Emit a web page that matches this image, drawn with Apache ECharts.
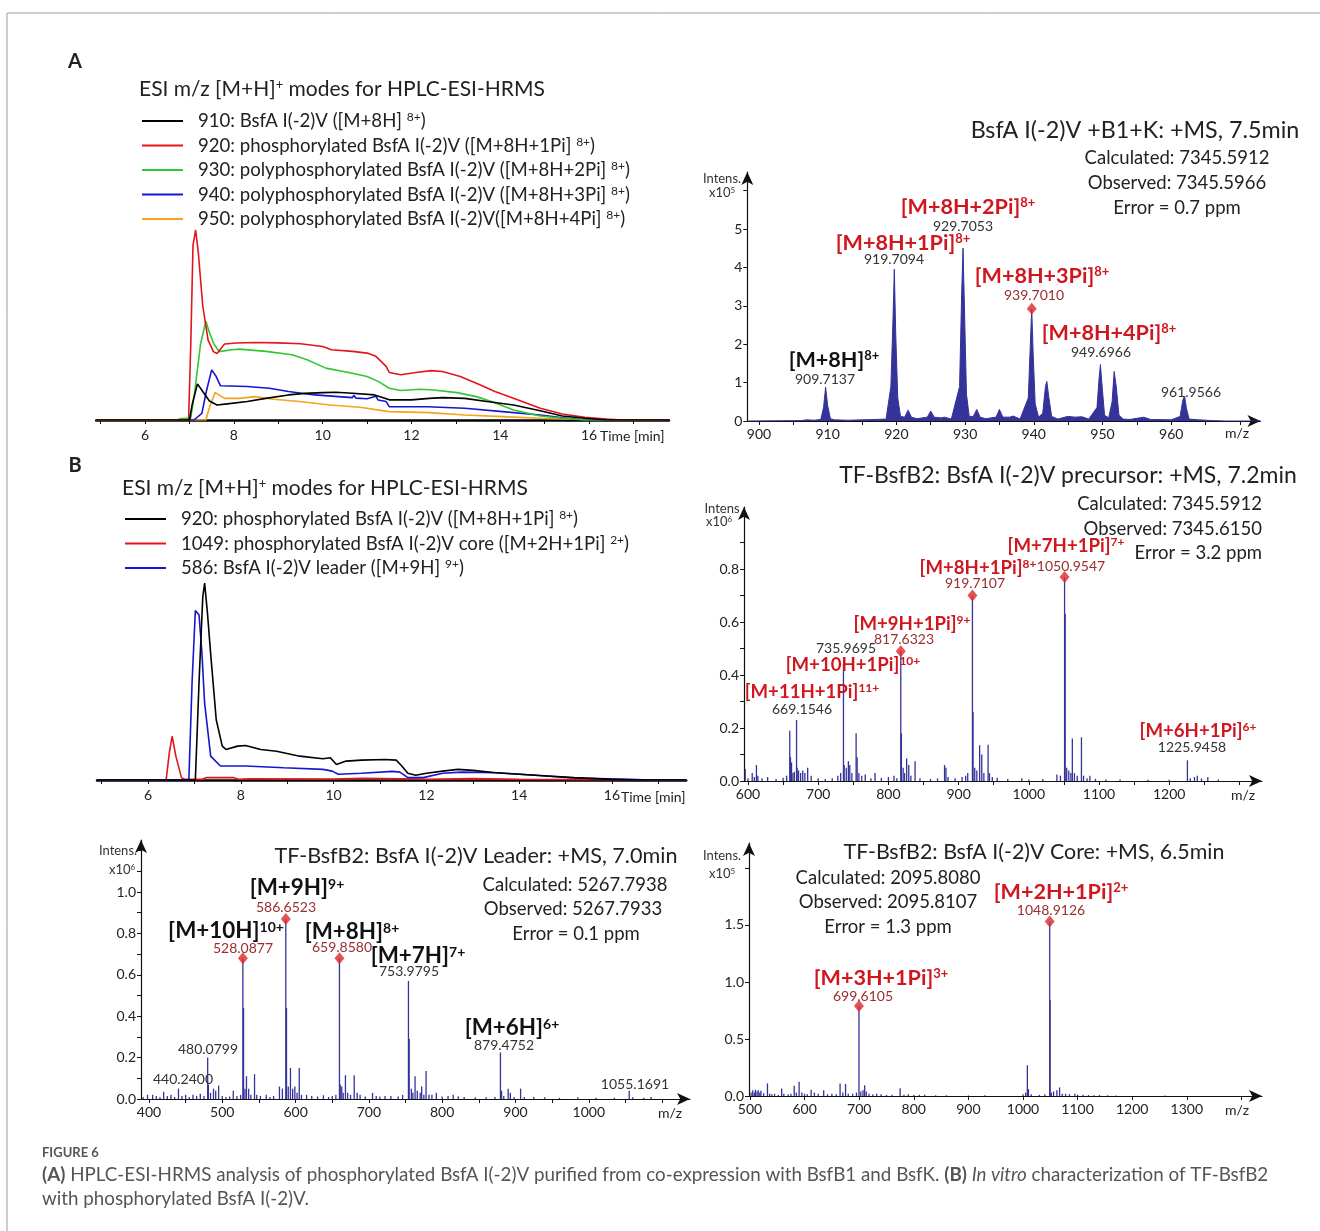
<!DOCTYPE html>
<html>
<head>
<meta charset="utf-8">
<script src="https://cdn.jsdelivr.net/npm/echarts@6/dist/echarts.min.js"></script>
<style>
html,body{margin:0;padding:0;background:#fff}
#main{width:1320px;height:1231px}
</style>
</head>
<body>
<div id="main"></div>
<script>
var FONT = 'Lato, "Noto Sans", sans-serif';
var NAVY = '#34339a', RED = '#d0161e', NUMRED = '#9b2d30', DIAMOND = '#dc2a2a';

// ---- A: extracted ion chromatograms (time [min], relative intensity)
var chromA910 = [[4.9,0],[7.0,0],[7.06,8],[7.18,19],[7.3,15],[7.45,10],[7.62,7.9],[7.85,8.5],[8.3,9.7],[8.72,11.4],[9.23,13.2],[9.6,14],[10,14.4],[10.3,14.6],[10.67,14.1],[11.17,13.2],[11.4,11.5],[11.5,10.6],[12.0,10.6],[12.4,11.4],[12.7,11.8],[13.2,11.4],[13.7,9.7],[14.3,7.9],[14.9,4.9],[15.4,2.1],[15.9,0.9],[16.4,0],[17.8,0]];
var chromA920 = [[4.9,0],[6.98,0],[7.03,40],[7.08,92],[7.14,100],[7.2,88],[7.3,60],[7.42,42],[7.54,36],[7.62,35],[7.79,40],[8.05,40.5],[8.5,40.8],[9.0,40.6],[9.5,40.1],[10.0,38.7],[10.2,37],[10.67,36.1],[11.0,35.2],[11.2,33.5],[11.43,28.2],[11.5,25],[11.76,23.8],[12.1,25],[12.44,26],[12.7,25.5],[13.1,22.9],[13.54,18.5],[13.88,15],[14.39,10.6],[14.9,6.2],[15.4,3.2],[15.9,1.4],[16.4,0.5],[16.75,0],[17.8,0]];
var chromA930 = [[4.9,0],[6.7,0],[6.8,0.7],[6.95,0.9],[7.03,1],[7.12,15],[7.25,40],[7.37,52],[7.45,46],[7.55,40],[7.67,36],[7.96,37],[8.13,37.3],[8.72,36.1],[9.31,34.3],[9.65,31.7],[10.07,27.3],[10.67,24.6],[11.0,22.9],[11.26,20.2],[11.5,16.7],[11.76,15.5],[12.19,16.2],[12.5,15.8],[13.03,14.4],[13.46,12.3],[13.8,9.7],[14.3,5.3],[14.9,2.1],[15.4,0.9],[15.9,0],[17.8,0]];
var chromA940 = [[4.9,0],[7.1,0],[7.28,3.5],[7.38,15],[7.5,26.4],[7.6,23],[7.7,18],[8.3,17.6],[8.8,16.7],[9.23,15],[9.82,13.2],[10.67,11.8],[10.7,13],[10.75,11.5],[11.0,11.2],[11.2,12.5],[11.25,10.5],[11.43,9.7],[11.5,7],[12.36,7],[13.2,6.2],[14.05,4.4],[14.9,2.6],[15.4,1.2],[15.9,0],[17.8,0]];
var chromA950 = [[4.9,0],[7.37,0],[7.47,8],[7.58,14.4],[7.79,11.4],[8.13,11.4],[8.47,12.3],[8.9,10.9],[9.48,9.7],[10.16,7.9],[10.84,6.7],[11.5,4.4],[12.4,3.9],[13.2,2.6],[14.05,1.8],[14.9,0.9],[15.7,0.4],[16.6,0],[17.8,0]];

// ---- B: extracted ion chromatograms
var chromB920 = [[4.9,0],[7.02,0],[7.1,50],[7.18,93],[7.22,100],[7.28,85],[7.35,64],[7.47,30.6],[7.6,17.2],[7.68,15.5],[7.93,17.2],[8.1,17.5],[8.43,15.5],[8.77,14.6],[9.27,12.1],[9.77,10.8],[9.93,11.3],[10.06,7.9],[10.27,9.6],[10.6,10.1],[11.1,10.4],[11.35,10.1],[11.47,7.1],[11.6,3.4],[11.77,2.4],[12.0,3.4],[12.35,4.5],[12.68,5.4],[13.0,4.9],[13.5,3.7],[14.35,2.4],[15.18,1.2],[16.0,0.3],[16.5,0],[17.6,0]];
var chromB1049 = [[4.9,0],[6.39,0],[6.46,14],[6.52,22.2],[6.6,12.1],[6.72,1.2],[6.8,0.3],[7.15,0.3],[7.25,1.2],[7.85,1.2],[7.95,0.4],[8.2,0.6],[10,0.5],[10.6,0.9],[11.5,0.6],[12.0,0.4],[13.0,0.7],[14,0.3],[15,0.2],[17.6,0]];
var chromB586 = [[4.9,0],[6.88,0],[6.95,50],[7.02,86],[7.1,83.7],[7.16,65],[7.22,39],[7.35,12.1],[7.56,7.1],[8.1,7.1],[8.93,6.2],[9.77,5.4],[9.97,4.5],[10.1,2.9],[10.6,3.4],[11.27,4.4],[11.43,4],[11.6,1.2],[11.93,1.2],[12.35,3.4],[12.77,4],[13.5,3.7],[14.35,2.4],[15.18,1],[16.4,0.3],[16.8,0],[17.6,0]];

var chromTicks = [5,6,7,8,9,10,11,12,13,14,15,16,17];
var chromLabels = [6,8,10,12,14,16];

// ---- A: mass spectrum profile (m/z, intens x10^5)
var profileA = [[898.3,0],[906,0.01],[907,0.03],[908,0.02],[909.0,0.04],[909.4,0.35],[909.7,0.88],[910.0,0.4],[910.4,0.06],[911,0.03],[913,0.02],[915,0.03],[917,0.04],[918.5,0.05],[919.2,0.9],[919.5,2.6],[919.7,3.95],[919.9,2.3],[920.2,0.6],[920.6,0.12],[921.2,0.1],[921.7,0.28],[922.2,0.1],[923,0.06],[924.5,0.1],[925,0.26],[925.5,0.1],[926.5,0.08],[927,0.1],[928,0.05],[929.2,0.9],[929.5,3.3],[929.7,4.5],[929.9,3.0],[930.2,0.7],[930.6,0.12],[931.2,0.12],[931.7,0.3],[932.2,0.1],[933,0.06],[934.5,0.1],[935,0.3],[935.5,0.1],[936.5,0.1],[937,0.13],[938,0.05],[939.2,0.6],[939.5,2.0],[939.7,2.92],[939.9,1.8],[940.2,0.45],[940.7,0.1],[941.3,0.2],[941.7,0.9],[941.9,1.03],[942.2,0.6],[942.6,0.12],[943.5,0.05],[944.5,0.1],[945,0.12],[946,0.1],[947,0.11],[948,0.05],[949.2,0.35],[949.5,1.1],[949.7,1.47],[949.9,1.0],[950.3,0.15],[950.9,0.08],[951.4,0.5],[951.7,1.29],[952.0,0.9],[952.4,0.15],[953,0.05],[954,0.04],[956,0.1],[957,0.04],[960,0.03],[961.3,0.12],[961.7,0.55],[961.95,0.65],[962.2,0.35],[962.6,0.05],[964,0.03],[966,0.01],[968,0],[973,0]];
var profileAMarks = [[939.70,2.92]];
var msATicks = [900,905,910,915,920,925,930,935,940,945,950,955,960,965,970];
var msALabels = [900,910,920,930,940,950,960];
var msAYTicks = [0,1,2,3,4,5,6];
var msAYLabels = [0,1,2,3,4,5];

// ---- B: precursor spectrum (m/z, intens x10^6)
var precursorSticks = [[596,0.045],[600,0.01],[606,0.03],[609,0.015],[612,0.06],[614,0.02],[620,0.01],[628,0.015],[640,0.008],[650,0.012],[655,0.02],[659.5,0.19],[660.5,0.09],[662,0.07],[664,0.03],[666,0.035],[669.15,0.23],[670,0.05],[672,0.04],[675,0.03],[678,0.04],[681,0.03],[685,0.05],[690,0.02],[700,0.01],[710,0.008],[720,0.01],[728,0.02],[732,0.03],[735.97,0.44],[737,0.06],[740,0.05],[743,0.075],[745,0.06],[748,0.03],[754,0.18],[755.5,0.09],[758,0.03],[762,0.02],[767,0.025],[775,0.01],[781,0.03],[790,0.012],[800,0.015],[808,0.02],[812,0.01],[817.63,0.49],[818.5,0.18],[821,0.05],[823,0.03],[826,0.085],[829,0.06],[832,0.02],[838,0.075],[845,0.01],[860,0.008],[870,0.01],[880,0.06],[882,0.05],[885,0.015],[895,0.01],[905,0.015],[910,0.02],[913,0.03],[919.71,0.70],[920.6,0.26],[923,0.05],[926,0.04],[930,0.135],[933,0.1],[936,0.03],[942,0.137],[944,0.03],[948,0.015],[955,0.012],[970,0.008],[990,0.01],[1000,0.006],[1020,0.008],[1040,0.025],[1045,0.02],[1050.95,0.77],[1051.8,0.63],[1054,0.05],[1057,0.04],[1060,0.03],[1062,0.16],[1065,0.03],[1069,0.02],[1075,0.165],[1078,0.02],[1083,0.01],[1087,0.02],[1095,0.008],[1110,0.006],[1130,0.006],[1170,0.005],[1200,0.005],[1225.95,0.078],[1230,0.01],[1236,0.015],[1240,0.02],[1246,0.01],[1255,0.015],[1270,0.006]];
var precursorMarks = [[817.63,0.49],[919.71,0.70],[1050.95,0.77]];
var msBTicks = [600,650,700,750,800,850,900,950,1000,1050,1100,1150,1200,1250,1300];
var msBLabels = [600,700,800,900,1000,1100,1200];
var msBYTicks = [0,0.1,0.2,0.3,0.4,0.5,0.6,0.7,0.8,0.9,1.0];
var msBYLabels = [0,0.2,0.4,0.6,0.8];

// ---- B: leader spectrum (m/z, intens x10^6)
var leaderSticks = [[392,0.01],[398,0.02],[405,0.02],[410,0.015],[415,0.01],[420,0.035],[425,0.015],[430,0.02],[435,0.01],[440.24,0.05],[445,0.015],[450,0.02],[455,0.01],[460,0.02],[465,0.015],[470,0.025],[475,0.015],[480.08,0.2],[481,0.07],[484,0.03],[488,0.05],[491,0.04],[495,0.065],[500,0.015],[505,0.01],[510,0.012],[515,0.04],[520,0.015],[525,0.02],[528.09,0.68],[529,0.44],[531,0.05],[533,0.11],[536,0.05],[539,0.02],[544,0.12],[547,0.02],[552,0.015],[560,0.02],[565,0.01],[570,0.015],[578,0.06],[582,0.05],[586.65,0.87],[587.6,0.44],[590,0.06],[593,0.15],[596,0.05],[599,0.06],[602,0.03],[605,0.15],[608,0.02],[615,0.02],[622,0.015],[630,0.012],[638,0.018],[645,0.01],[650,0.015],[655,0.02],[659.86,0.68],[660.9,0.07],[663,0.06],[665,0.03],[668,0.115],[671,0.03],[675,0.02],[680,0.115],[684,0.03],[688,0.02],[695,0.012],[705,0.03],[710,0.015],[715,0.012],[722,0.015],[730,0.015],[740,0.012],[746,0.02],[753.98,0.57],[755,0.29],[758,0.05],[760,0.03],[763,0.11],[766,0.04],[770,0.03],[772,0.06],[775,0.02],[778,0.135],[782,0.02],[786,0.02],[792,0.03],[800,0.012],[808,0.015],[815,0.02],[822,0.012],[830,0.01],[845,0.008],[860,0.008],[872,0.01],[879.48,0.225],[881,0.04],[884,0.015],[890,0.05],[893,0.03],[898,0.01],[907,0.05],[912,0.01],[925,0.01],[940,0.008],[960,0.006],[985,0.008],[1010,0.006],[1035,0.006],[1055.17,0.04],[1060,0.008],[1075,0.006],[1085,0.01]];
var leaderMarks = [[528.09,0.68],[586.65,0.87],[659.86,0.68]];
var leaderTicks = [400,450,500,550,600,650,700,750,800,850,900,950,1000,1050,1100];
var leaderLabels = [400,500,600,700,800,900,1000];
var leaderYTicks = [0,0.1,0.2,0.3,0.4,0.5,0.6,0.7,0.8,0.9,1.0,1.1,1.2];
var leaderYLabels = [0,0.2,0.4,0.6,0.8,1.0];

// ---- B: core spectrum (m/z, intens x10^5)
var coreSticks = [[502,0.03],[505,0.05],[508,0.03],[510,0.055],[513,0.04],[515,0.05],[518,0.03],[520,0.045],[525,0.025],[532,0.11],[536,0.02],[540,0.015],[545,0.02],[552,0.01],[558,0.065],[562,0.02],[570,0.015],[575,0.02],[581,0.09],[585,0.03],[590,0.125],[595,0.03],[600,0.02],[605,0.015],[612,0.055],[618,0.03],[625,0.02],[635,0.05],[642,0.015],[650,0.02],[658,0.015],[665,0.11],[670,0.03],[675,0.105],[680,0.02],[688,0.02],[695,0.03],[699.61,0.79],[703,0.04],[707,0.05],[710,0.095],[713,0.04],[718,0.02],[725,0.015],[732,0.02],[740,0.015],[750,0.01],[760,0.012],[775,0.068],[782,0.01],[790,0.015],[800,0.008],[810,0.01],[820,0.012],[840,0.006],[860,0.006],[900,0.005],[930,0.006],[1000,0.015],[1005,0.03],[1008,0.27],[1010,0.06],[1015,0.015],[1030,0.01],[1040,0.015],[1048.91,1.53],[1049.6,0.84],[1052,0.03],[1056,0.04],[1062,0.05],[1067,0.075],[1072,0.02],[1078,0.02],[1085,0.015],[1095,0.02],[1100,0.012],[1110,0.01],[1120,0.008],[1130,0.006],[1140,0.008],[1155,0.006],[1170,0.005],[1260,0.004]];
var coreMarks = [[699.61,0.79],[1048.91,1.53]];
var coreTicks = [500,600,700,800,900,1000,1100,1200,1300,1400];
var coreLabels = [500,600,700,800,900,1000,1100,1200,1300];
var coreYTicks = [0,0.5,1.0,1.5,2.0];
var coreYLabels = [0,0.5,1.0,1.5];

// legends
var legendA = [['910: BsfA I(-2)V ([M+8H] ', '8+', ')'],
  ['920: phosphorylated BsfA I(-2)V ([M+8H+1Pi] ', '8+', ')'],
  ['930: polyphosphorylated BsfA I(-2)V ([M+8H+2Pi] ', '8+', ')'],
  ['940: polyphosphorylated BsfA I(-2)V ([M+8H+3Pi] ', '8+', ')'],
  ['950: polyphosphorylated BsfA I(-2)V([M+8H+4Pi] ', '8+', ')']];
var legendAColors = ['#000000', '#e3141c', '#33c633', '#1616d0', '#f5a21c'];
var legendB = [['920: phosphorylated BsfA I(-2)V ([M+8H+1Pi] ', '8+', ')'],
  ['1049: phosphorylated BsfA I(-2)V core ([M+2H+1Pi] ', '2+', ')'],
  ['586: BsfA I(-2)V leader ([M+9H] ', '9+', ')']];
var legendBColors = ['#000000', '#e3141c', '#1616d0'];

function txt(x, y, text, size, color, bold, align) {
  return {type: 'text', x: x, y: y, z: 100, silent: true, style: {
    text: text, fontFamily: FONT, fontSize: size, fontWeight: bold ? 'bold' : 'normal',
    fill: color || '#222', align: align || 'center', verticalAlign: 'middle',
    textAlign: align || 'center', textVerticalAlign: 'middle'}};
}
// parts alternate normal / superscript
function rt(x, y, parts, size, color, bold, align) {
  var w = bold ? 'bold' : 'normal', s = '';
  color = color || '#222';
  parts.forEach(function (p, i) {
    if (p !== '') s += '{' + (i % 2 ? 's' : 'm') + '|' + p + '}';
  });
  return {type: 'text', x: x, y: y, z: 100, silent: true, style: {
    text: s, align: align || 'center', verticalAlign: 'middle',
    textAlign: align || 'center', textVerticalAlign: 'middle',
    rich: {
      m: {fontFamily: FONT, fontSize: size, fontWeight: w, fill: color, color: color},
      s: {fontFamily: FONT, fontSize: Math.round(size * 0.62), fontWeight: w, fill: color, color: color, verticalAlign: 'top'}
    }}};
}
function seg(x1, y1, x2, y2, color, width) {
  return {type: 'line', z: 100, silent: true, shape: {x1: x1, y1: y1, x2: x2, y2: y2},
    style: {stroke: color, lineWidth: width}};
}
function plain(v) { return String(v); }

function chromX(gi, min, max) {
  return {type: 'value', gridIndex: gi, min: min, max: max, splitLine: {show: false},
    axisLine: {lineStyle: {color: '#000', width: 2.5}},
    axisTick: {customValues: chromTicks, length: 4, lineStyle: {color: '#000', width: 1}},
    axisLabel: {customValues: chromLabels, color: '#222', fontSize: 14, fontFamily: FONT, margin: 8, formatter: plain}};
}
function msX(gi, min, max, ticks, labels) {
  return {type: 'value', gridIndex: gi, min: min, max: max, splitLine: {show: false},
    axisLine: {lineStyle: {color: '#111', width: 1.2}, symbol: ['none', 'arrow'], symbolSize: [9, 13]},
    axisTick: {customValues: ticks, length: 4, lineStyle: {color: '#111'}},
    axisLabel: {customValues: labels, color: '#222', fontSize: 14, fontFamily: FONT, margin: 6, formatter: plain}};
}
function msY(gi, max, ticks, labels, dec) {
  return {type: 'value', gridIndex: gi, min: 0, max: max, splitLine: {show: false},
    axisLine: {show: true, lineStyle: {color: '#111', width: 1.2}, symbol: ['none', 'arrow'], symbolSize: [9, 13]},
    axisTick: {show: true, customValues: ticks, length: 4, lineStyle: {color: '#111'}},
    axisLabel: {customValues: labels, color: '#222', fontSize: 14, fontFamily: FONT, margin: 5,
      formatter: function (v) { return v.toFixed(dec); }}};
}
function chromLine(gi, data, color) {
  return {type: 'line', xAxisIndex: gi, yAxisIndex: gi, data: data, symbol: 'none', silent: true,
    lineStyle: {color: color, width: 1.6}};
}
function sticks(gi, data) {
  return {type: 'custom', xAxisIndex: gi, yAxisIndex: gi, data: data, silent: true,
    renderItem: function (params, api) {
      var p0 = api.coord([api.value(0), 0]), p1 = api.coord([api.value(0), api.value(1)]);
      return {type: 'line', shape: {x1: p0[0], y1: p0[1], x2: p1[0], y2: p1[1]},
        style: {stroke: NAVY, lineWidth: 1.3}};
    }};
}
function marks(gi, data) {
  return {type: 'scatter', xAxisIndex: gi, yAxisIndex: gi, data: data, symbol: 'diamond',
    symbolSize: [10, 12], silent: true, z: 5, itemStyle: {color: DIAMOND}};
}

var graphics = [
  seg(7, 13, 1320, 13, '#9a9a9a', 1), seg(7, 13, 7, 1231, '#9a9a9a', 1),
  txt(75, 62, 'A', 20, '#222', true), txt(75, 466, 'B', 20, '#222', true),
  // legend titles
  rt(139, 89, ['ESI m/z [M+H]', '+', ' modes for HPLC-ESI-HRMS'], 21, '#222', false, 'left'),
  rt(122, 488, ['ESI m/z [M+H]', '+', ' modes for HPLC-ESI-HRMS'], 21, '#222', false, 'left'),
  txt(600, 436, 'Time [min]', 14, '#222', false, 'left'),
  txt(621, 797, 'Time [min]', 14, '#222', false, 'left'),
  // A MS
  txt(1135, 130, 'BsfA I(-2)V +B1+K: +MS, 7.5min', 23.3, '#222'),
  txt(1177, 158, 'Calculated: 7345.5912', 18.5, '#222'),
  txt(1177, 183, 'Observed: 7345.5966', 18.5, '#222'),
  txt(1177, 208, 'Error = 0.7 ppm', 18.5, '#222'),
  txt(722, 179, 'Intens.', 13, '#333'), rt(722, 193, ['x10', '5'], 13, '#333'),
  txt(1237, 433, 'm/z', 14, '#222'),
  rt(834, 360, ['[M+8H]', '8+'], 21.6, '#111', true), txt(825, 379, '909.7137', 14, '#333'),
  rt(903, 243, ['[M+8H+1Pi]', '8+'], 21.6, RED, true), txt(894, 259, '919.7094', 14, '#333'),
  rt(968, 207, ['[M+8H+2Pi]', '8+'], 21.6, RED, true), txt(963, 226, '929.7053', 14, '#333'),
  rt(1042, 276, ['[M+8H+3Pi]', '8+'], 21.6, RED, true), txt(1034, 295, '939.7010', 14, NUMRED),
  rt(1109, 333, ['[M+8H+4Pi]', '8+'], 21.6, RED, true), txt(1101, 352, '949.6966', 14, '#333'),
  txt(1191, 392, '961.9566', 14, '#333'),
  // B precursor MS
  txt(1068, 476, 'TF-BsfB2: BsfA I(-2)V precursor: +MS, 7.2min', 23, '#222'),
  txt(1262, 504, 'Calculated: 7345.5912', 18.5, '#222', false, 'right'),
  txt(1262, 529, 'Observed: 7345.6150', 18.5, '#222', false, 'right'),
  txt(1262, 553, 'Error = 3.2 ppm', 18.5, '#222', false, 'right'),
  txt(722, 509, 'Intens', 13, '#333'), rt(719, 522, ['x10', '6'], 13, '#333'),
  txt(1243, 795, 'm/z', 14, '#222'),
  rt(1066, 546, ['[M+7H+1Pi]', '7+'], 18.6, RED, true),
  rt(978, 568, ['[M+8H+1Pi]', '8+'], 18.6, RED, true), txt(1071, 566, '1050.9547', 14, NUMRED),
  txt(975, 583, '919.7107', 14, NUMRED),
  rt(912, 624, ['[M+9H+1Pi]', '9+'], 18.6, RED, true), txt(904, 639, '817.6323', 14, NUMRED),
  txt(846, 648, '735.9695', 14, '#333'),
  rt(853, 665, ['[M+10H+1Pi]', '10+'], 18.6, RED, true),
  rt(812, 692, ['[M+11H+1Pi]', '11+'], 18.6, RED, true), txt(802, 709, '669.1546', 14, '#333'),
  rt(1198, 731, ['[M+6H+1Pi]', '6+'], 18.6, RED, true), txt(1192, 747, '1225.9458', 14, '#333'),
  // leader MS
  txt(476, 856, 'TF-BsfB2: BsfA I(-2)V Leader: +MS, 7.0min', 21.6, '#222'),
  txt(575, 885, 'Calculated: 5267.7938', 18.5, '#222'),
  txt(573, 909, 'Observed: 5267.7933', 18.5, '#222'),
  txt(576, 934, 'Error = 0.1 ppm', 18.5, '#222'),
  txt(118, 851, 'Intens.', 13, '#333'), rt(122, 870, ['x10', '6'], 13, '#333'),
  txt(670, 1113, 'm/z', 14, '#222'),
  rt(297, 888, ['[M+9H]', '9+'], 22.4, '#111', true), txt(286, 907, '586.6523', 14, NUMRED),
  rt(226, 931, ['[M+10H]', '10+'], 22.4, '#111', true), txt(243, 948, '528.0877', 14, NUMRED),
  rt(352, 932, ['[M+8H]', '8+'], 22.4, '#111', true), txt(342, 947, '659.8580', 14, NUMRED),
  rt(418, 956, ['[M+7H]', '7+'], 22.4, '#111', true), txt(409, 971, '753.9795', 14, '#333'),
  rt(512, 1028, ['[M+6H]', '6+'], 22.4, '#111', true), txt(504, 1045, '879.4752', 14, '#333'),
  txt(208, 1049, '480.0799', 14, '#333'), txt(183, 1079, '440.2400', 14, '#333'),
  txt(635, 1084, '1055.1691', 14, '#333'),
  // core MS
  txt(1034, 852, 'TF-BsfB2: BsfA I(-2)V Core: +MS, 6.5min', 21.4, '#222'),
  txt(888, 878, 'Calculated: 2095.8080', 18.5, '#222'),
  txt(888, 902, 'Observed: 2095.8107', 18.5, '#222'),
  txt(888, 927, 'Error = 1.3 ppm', 18.5, '#222'),
  txt(722, 856, 'Intens.', 13, '#333'), rt(722, 874, ['x10', '5'], 13, '#333'),
  txt(1237, 1110, 'm/z', 14, '#222'),
  rt(1061, 892, ['[M+2H+1Pi]', '2+'], 21.6, RED, true), txt(1051, 910, '1048.9126', 14, NUMRED),
  rt(881, 978, ['[M+3H+1Pi]', '3+'], 21.6, RED, true), txt(863, 996, '699.6105', 14, NUMRED),
  // caption
  txt(42, 1153, 'FIGURE 6', 13, '#555', true, 'left'),
  {type: 'text', x: 42, y: 1175, z: 100, silent: true, style: {
    text: '{b|(A)}{n| HPLC-ESI-HRMS analysis of phosphorylated BsfA I(-2)V purified from co-expression with BsfB1 and BsfK. }{b|(B)}{n| }{i|In vitro}{n| characterization of TF-BsfB2}',
    align: 'left', verticalAlign: 'middle', textAlign: 'left', textVerticalAlign: 'middle',
    rich: {n: {fontFamily: FONT, fontSize: 18.8, fill: '#555', color: '#555'},
      b: {fontFamily: FONT, fontSize: 18.8, fontWeight: 'bold', fill: '#555', color: '#555'},
      i: {fontFamily: FONT, fontSize: 18.8, fontStyle: 'italic', fill: '#555', color: '#555'}}}},
  txt(42, 1199, 'with phosphorylated BsfA I(-2)V.', 18.8, '#555', false, 'left')
];
legendA.forEach(function (p, i) {
  var y = 121 + i * 24.5;
  graphics.push(seg(142, y, 183, y, legendAColors[i], 2));
  graphics.push(rt(198, y, p, 18.6, '#222', false, 'left'));
});
legendB.forEach(function (p, i) {
  var y = 519 + i * 24.5;
  graphics.push(seg(125, y, 166, y, legendBColors[i], 2));
  graphics.push(rt(181, y, p, 18.6, '#222', false, 'left'));
});

var chart = echarts.init(document.getElementById('main'));
chart.setOption({
  backgroundColor: '#fff',
  animation: false,
  grid: [
    {left: 96.2, top: 230, width: 572.8, height: 190, outerBoundsMode: 'none'},
    {left: 747.3, top: 172, width: 513.2, height: 249, outerBoundsMode: 'none'},
    {left: 97, top: 583, width: 589.2, height: 197, outerBoundsMode: 'none'},
    {left: 744, top: 507, width: 518, height: 274, outerBoundsMode: 'none'},
    {left: 141, top: 840, width: 549, height: 259, outerBoundsMode: 'none'},
    {left: 749, top: 843, width: 513, height: 253, outerBoundsMode: 'none'}
  ],
  xAxis: [
    chromX(0, 4.9, 17.8),
    msX(1, 898.3, 973, msATicks, msALabels),
    chromX(2, 4.9, 17.6),
    msX(3, 594.3, 1332.2, msBTicks, msBLabels),
    msX(4, 389.1, 1138.1, leaderTicks, leaderLabels),
    msX(5, 498.2, 1437.7, coreTicks, coreLabels)
  ],
  yAxis: [
    {type: 'value', gridIndex: 0, min: 0, max: 100, show: false},
    msY(1, 6.484, msAYTicks, msAYLabels, 0),
    {type: 'value', gridIndex: 2, min: 0, max: 100, show: false},
    msY(3, 1.034, msBYTicks, msBYLabels, 1),
    msY(4, 1.2512, leaderYTicks, leaderYLabels, 1),
    msY(5, 2.219, coreYTicks, coreYLabels, 1)
  ],
  series: [
    chromLine(0, chromA950, legendAColors[4]),
    chromLine(0, chromA940, legendAColors[3]),
    chromLine(0, chromA930, legendAColors[2]),
    chromLine(0, chromA920, legendAColors[1]),
    chromLine(0, chromA910, legendAColors[0]),
    {type: 'line', xAxisIndex: 1, yAxisIndex: 1, data: profileA, symbol: 'none', silent: true,
      lineStyle: {color: NAVY, width: 1}, areaStyle: {color: NAVY, opacity: 1}},
    marks(1, profileAMarks),
    chromLine(2, chromB1049, legendBColors[1]),
    chromLine(2, chromB586, legendBColors[2]),
    chromLine(2, chromB920, legendBColors[0]),
    sticks(3, precursorSticks), marks(3, precursorMarks),
    sticks(4, leaderSticks), marks(4, leaderMarks),
    sticks(5, coreSticks), marks(5, coreMarks)
  ],
  graphic: graphics
});
</script>
</body>
</html>
